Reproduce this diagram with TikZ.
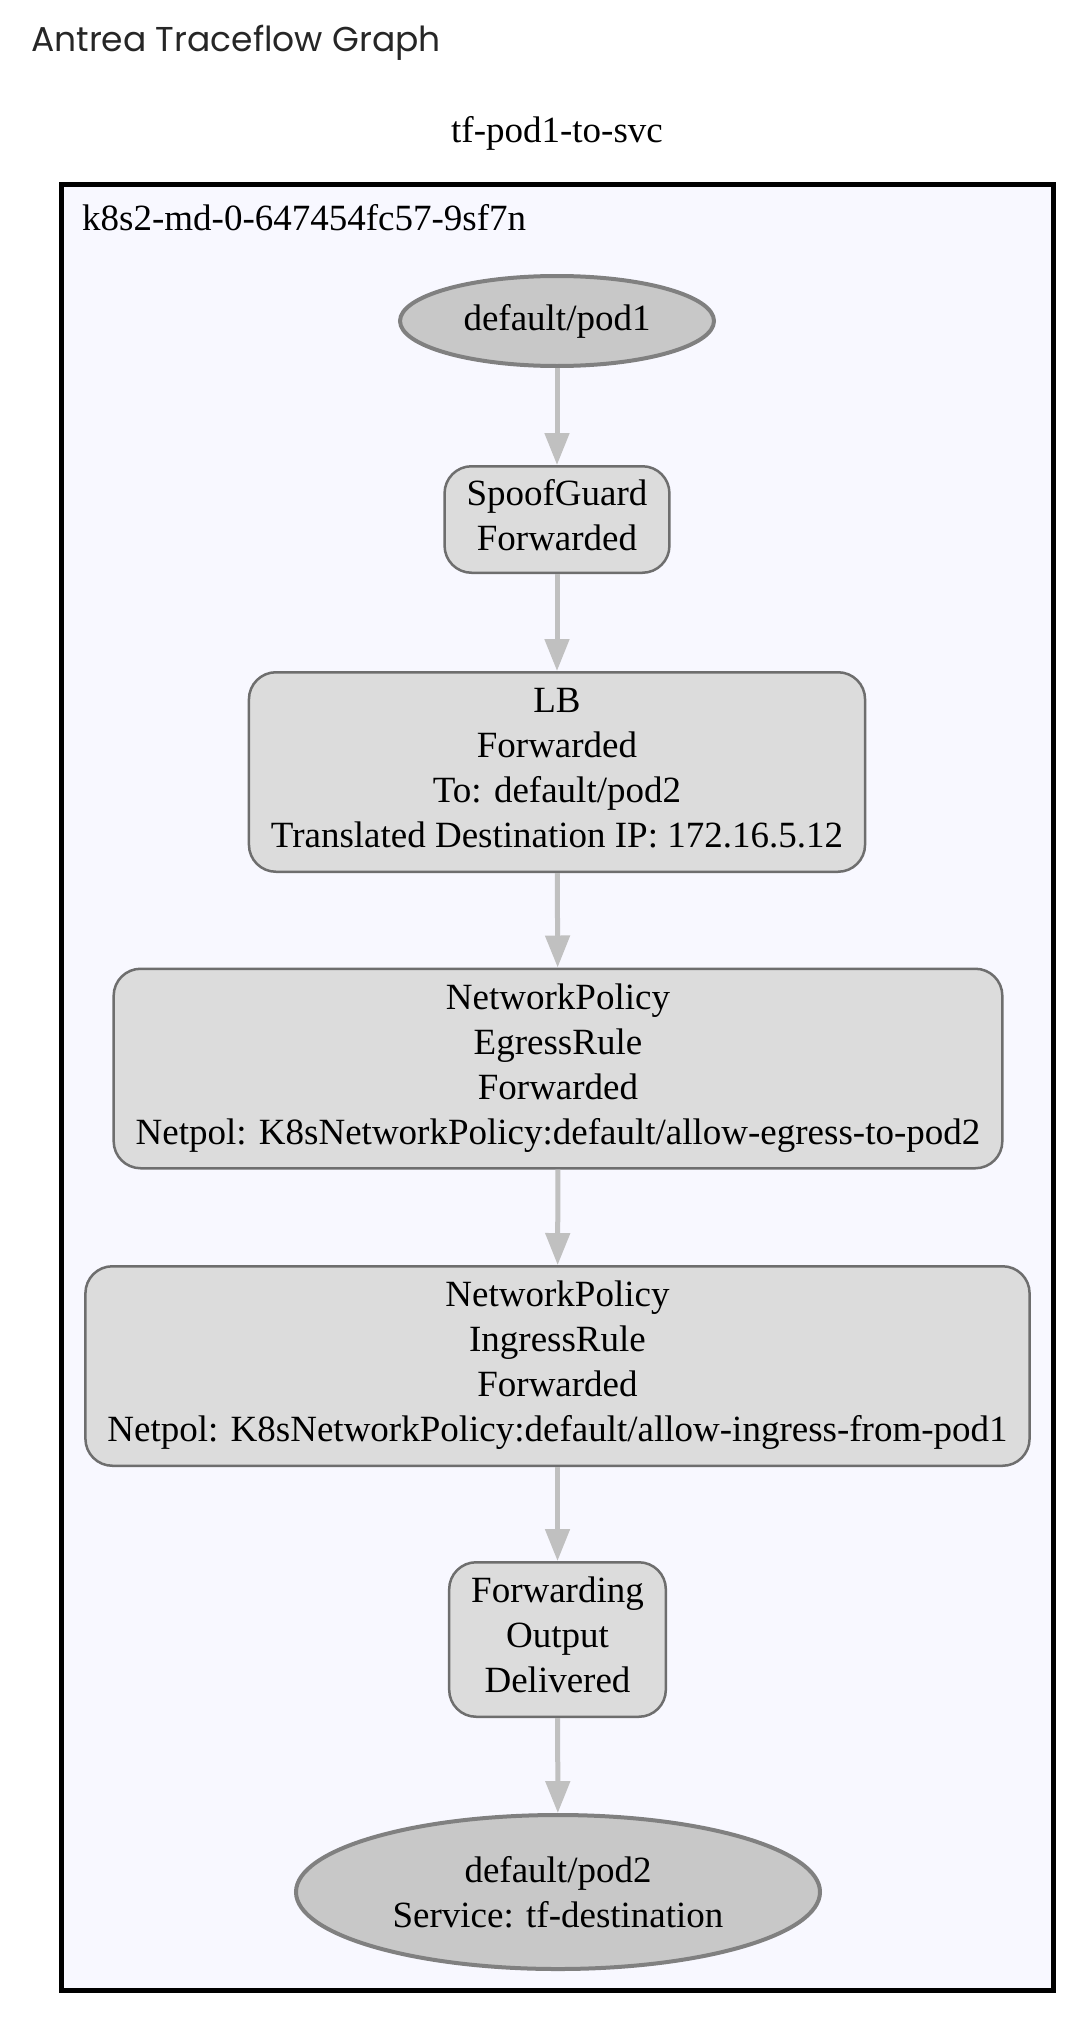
\documentclass[tikz,border=0pt]{standalone}
\usepackage{fontspec}
\setmainfont{Liberation Serif}
\newfontfamily\titlefont{Poppins}
\usetikzlibrary{shapes.geometric, arrows.meta}

\definecolor{clusterbg}{HTML}{F8F8FF}
\definecolor{stepfill}{HTML}{DCDCDC}
\definecolor{stepline}{HTML}{6E6E6E}
\definecolor{podfill}{HTML}{C8C8C8}
\definecolor{podline}{HTML}{808080}
\definecolor{edgeline}{HTML}{C0C0C0}

\newcommand{\topstrut}{\rule{0pt}{33pt}}
\newcommand{\botstrut}{\rule[-9pt]{0pt}{9pt}}

\tikzset{
    stepbox/.style={rectangle, rounded corners=27pt, draw=stepline, fill=stepfill,
        line width=2.5pt, align=center, inner xsep=22pt, inner ysep=11pt,
        execute at begin node=\topstrut, execute at end node=\botstrut},
    podnode/.style={ellipse, draw=podline, fill=podfill, line width=4pt, align=center},
    flow/.style={draw=edgeline, line width=5pt, -{Triangle[width=24pt, length=32pt]}}
}

\begin{document}
\begin{tikzpicture}[x=1pt, y=-1pt, font=\fontsize{37}{45}\selectfont]
        \useasboundingbox (0,0) rectangle (1086,2028);

        % Titles and cluster
        \node (title) [anchor=base west, inner sep=0pt, font=\titlefont\fontsize{34.5}{40}\selectfont, text=black!85] at (31,52) {Antrea Traceflow Graph};
        \node (graph) [anchor=base, inner sep=0pt] at (557,143) {tf-pod1-to-svc};
        \draw[line width=5pt, fill=clusterbg] (61,185) rectangle (1053,1990);
        \node (cluster) [anchor=base west, inner sep=0pt] at (82,230) {k8s2-md-0-647454fc57-9sf7n};

        % Nodes
        \node (1) [podnode, minimum width=314pt, minimum height=90pt] at (557,321) {default/pod1};
        \node (2) [stepbox, minimum height=106.5pt] at (557,519.5) {SpoofGuard\\Forwarded};
        \node (3) [stepbox, minimum height=199.5pt] at (557,772) {LB\\Forwarded\\To: default/pod2\\Translated Destination IP: 172.16.5.12};
        \node (4) [stepbox, minimum height=199.5pt] at (558,1068.5) {NetworkPolicy\\EgressRule\\Forwarded\\Netpol: K8sNetworkPolicy:default/allow-egress-to-pod2};
        \node (5) [stepbox, minimum height=199.5pt] at (557.5,1366) {NetworkPolicy\\IngressRule\\Forwarded\\Netpol: K8sNetworkPolicy:default/allow-ingress-from-pod1};
        \node (6) [stepbox, minimum height=154.5pt] at (557.5,1639.5) {Forwarding\\Output\\Delivered};
        \node (7) [podnode, minimum width=524pt, minimum height=154pt] at (558,1892) {default/pod2\\Service: tf-destination};

        % Edges
        \draw[flow] (1) -- (2);
        \draw[flow] (2) -- (3);
        \draw[flow] (3) -- (4);
        \draw[flow] (4) -- (5);
        \draw[flow] (5) -- (6);
        \draw[flow] (6) -- (7);

    \end{tikzpicture}
\end{document}
